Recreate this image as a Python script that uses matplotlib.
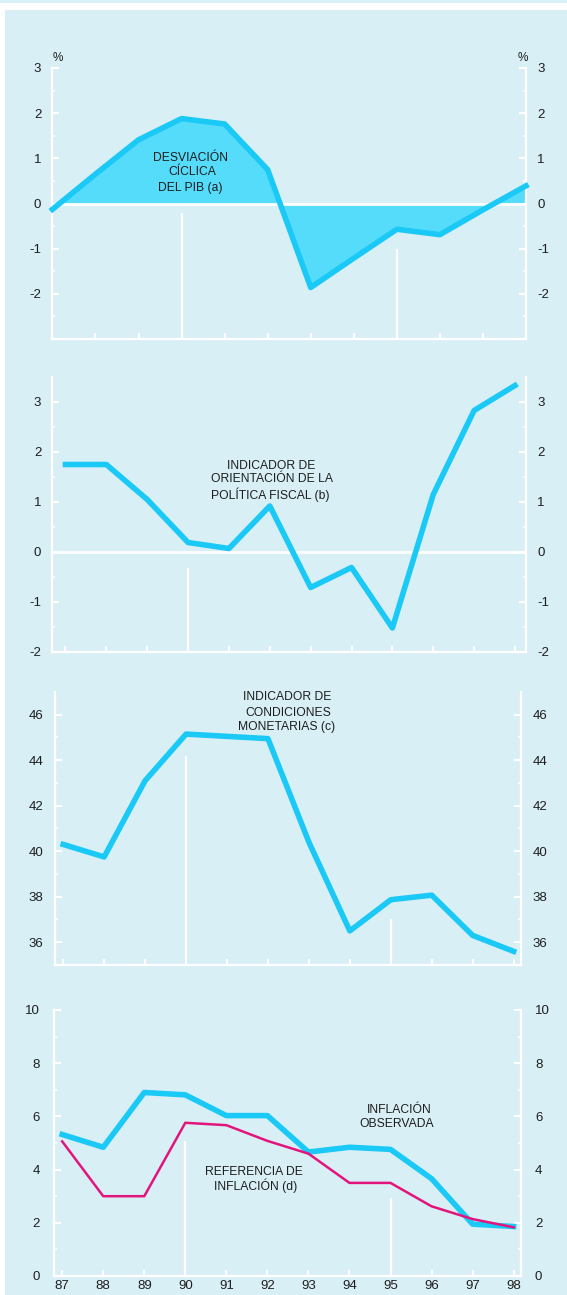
import matplotlib.pyplot as plt
from matplotlib.patches import Rectangle

plt.rcParams['font.family'] = ['Liberation Sans', 'DejaVu Sans']
plt.rcParams['axes.unicode_minus'] = False

W, H = 567, 1295
BG = '#d9eff6'
CYAN = '#1ac9f6'
FILL = '#55dcfb'
MAGENTA = '#e2157c'
TXT = '#1e1e1e'

years = list(range(87, 99))
year_labels = [str(y) for y in years]

# datos
desviacion_pib = [-0.13, 0.65, 1.41, 1.88, 1.76, 0.75, -1.86, -1.21, -0.57, -0.69, -0.14, 0.39]
orientacion_fiscal = [1.75, 1.75, 1.05, 0.19, 0.07, 0.92, -0.71, -0.31, -1.52, 1.15, 2.83, 3.33]
condiciones_monetarias = [40.3, 39.75, 43.1, 45.15, 45.05, 44.95, 40.4, 36.5, 37.87, 38.07, 36.3, 35.6]
inflacion_observada = [5.32, 4.84, 6.9, 6.81, 6.03, 6.03, 4.66, 4.84, 4.76, 3.66, 1.95, 1.86]
referencia_inflacion = [5.06, 3.0, 3.0, 5.76, 5.67, 5.08, 4.6, 3.5, 3.5, 2.62, 2.14, 1.83]

# lineas verticales blancas (año, altura superior)
vl_x1, vl_top1 = [90, 95], [-0.2, -1.0]
vl_x2, vl_top2 = [90], [-0.32]
vl_x3, vl_top3 = [90, 95], [44.2, 37.0]
vl_x4, vl_top4 = [90, 95], [5.07, 2.92]

fig = plt.figure(figsize=(W / 100, H / 100), dpi=100, facecolor='white')
fig.patches.append(Rectangle((5 / W, 0), 1, 1 - 10 / H, transform=fig.transFigure,
                             facecolor=BG, edgecolor='none', zorder=-10))
fig.patches.append(Rectangle((0, 1 - 3 / H), 1, 3 / H, transform=fig.transFigure,
                             facecolor=BG, edgecolor='none', zorder=-10))


def make_ax(left, right, top, bottom):
    return fig.add_axes([left / W, 1 - bottom / H, (right - left) / W, (bottom - top) / H])


def setup(ax, xlim, ylim, major, minor, pad, show_years=False):
    ax.set_facecolor('none')
    ax.set_xlim(xlim)
    ax.set_ylim(ylim)
    ax.spines['top'].set_visible(False)
    for s in ['left', 'right', 'bottom']:
        ax.spines[s].set_color('white')
        ax.spines[s].set_linewidth(1.6)
    ax.set_yticks(major)
    ax.set_yticks(minor, minor=True)
    ax.set_xticks(years)
    if show_years:
        ax.set_xticklabels(year_labels)
    else:
        ax.set_xticklabels([])
    ax.tick_params(axis='y', which='both', direction='in', color='white',
                   left=True, right=True, labelleft=True, labelright=True,
                   labelcolor=TXT, labelsize=9.5, pad=pad)
    ax.tick_params(axis='y', which='major', length=5, width=1.5)
    ax.tick_params(axis='y', which='minor', length=2.5, width=1.2)
    ax.tick_params(axis='x', which='major', direction='in', color='white',
                   length=4, width=1.5, labelcolor=TXT, labelsize=9.5, pad=3)


def ftext(px, py, s, size=8.7, ha='center'):
    fig.text(px / W, 1 - py / H, s, ha=ha, va='center', fontsize=size, color=TXT)


# Panel 1 - desviacion ciclica del PIB
ax1 = make_ax(52.4, 526, 68, 339)
setup(ax1, (87, 98), (-3, 3), [-2, -1, 0, 1, 2, 3], [-2.5, -1.5, -0.5, 0.5, 1.5, 2.5], 8)
ax1.fill_between(years, desviacion_pib, 0, color=FILL, lw=0, zorder=1)
ax1.axhline(0, color='white', lw=2, zorder=2)
ax1.vlines(vl_x1, -3, vl_top1, color='white', lw=1.6, zorder=2)
ax1.plot(years, desviacion_pib, color=CYAN, lw=4, zorder=3, clip_on=False)
ftext(190, 158, 'DESVIACIÓN')
ftext(192, 172, 'CÍCLICA')
ftext(190, 188, 'DEL PIB (a)')
ftext(58, 58, '%', size=8.5)
ftext(523, 58, '%', size=8.5)

# Panel 2 - orientacion de la politica fiscal
ax2 = make_ax(52.4, 526, 377, 652)
setup(ax2, (86.68, 98.27), (-2, 3.5), [-2, -1, 0, 1, 2, 3], [-1.5, -0.5, 0.5, 1.5, 2.5], 8)
ax2.axhline(0, color='white', lw=2, zorder=2)
ax2.vlines(vl_x2, -2, vl_top2, color='white', lw=1.6, zorder=2)
ax2.plot(years, orientacion_fiscal, color=CYAN, lw=4, zorder=3)
ftext(271, 466, 'INDICADOR DE')
ftext(272, 479, 'ORIENTACIÓN DE LA')
ftext(270, 495, 'POLÍTICA FISCAL (b)')

# Panel 3 - condiciones monetarias
ax3 = make_ax(55, 521, 692, 965)
setup(ax3, (86.8, 98.18), (35, 47), [36, 38, 40, 42, 44, 46], [37, 39, 41, 43, 45], 8.3)
ax3.vlines(vl_x3, 35, vl_top3, color='white', lw=1.6, zorder=2)
ax3.plot(years, condiciones_monetarias, color=CYAN, lw=4, zorder=3)
ftext(287, 697, 'INDICADOR DE')
ftext(288, 713, 'CONDICIONES')
ftext(287, 727, 'MONETARIAS (c)')

# Panel 4 - inflacion
ax4 = make_ax(54, 521, 1010, 1276)
setup(ax4, (86.8, 98.18), (0, 10), [0, 2, 4, 6, 8, 10], [1, 3, 5, 7, 9], 10, show_years=True)
ax4.vlines(vl_x4, 0, vl_top4, color='white', lw=1.6, zorder=2)
ax4.plot(years, inflacion_observada, color=CYAN, lw=4, zorder=3)
ax4.plot(years, referencia_inflacion, color=MAGENTA, lw=1.8, zorder=4)
ftext(399, 1110, 'INFLACIÓN')
ftext(397, 1124, 'OBSERVADA')
ftext(254, 1172, 'REFERENCIA DE')
ftext(256, 1186, 'INFLACIÓN (d)')

fig.savefig('out.png', dpi=100, facecolor=fig.get_facecolor())
